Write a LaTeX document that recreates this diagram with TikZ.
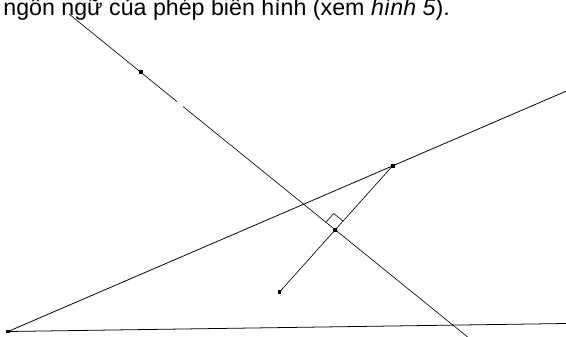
\documentclass[tikz,border=0pt]{standalone}
\usepackage{fontspec}
\setmainfont{Liberation Sans}
\tikzset{vertex/.style={rectangle,fill=black,inner sep=0pt,minimum size=2.8pt}}
\begin{document}
\begin{tikzpicture}[x=0.025cm,y=-0.025cm,line width=0.55pt]
\useasboundingbox (0,0) rectangle (566,336);
\clip (0,0) rectangle (566,336);
% points
\coordinate (A) at (8,331.5);
\coordinate (B) at (392.7,165.7);
\coordinate (H) at (335,230);
\coordinate (C) at (279.5,292);
\coordinate (P) at (140.7,72.3);
\coordinate (T) at (69,14);
\coordinate (G1) at (177,101.6);
\coordinate (G2) at (183,106.5);
\coordinate (D) at (475,343);
\coordinate (E) at (580,85.2);
\coordinate (F) at (580,323.3);
% text
\node[anchor=base west,font=\fontsize{16.5}{19}\selectfont,inner sep=0pt] (txt) at (3,15.5)
  {ngôn ngữ của phép biến hình (xem \textit{hình 5}).};
% lines
\draw (A) -- (E);
\draw (A) -- (F);
\draw[line width=0.45pt] (T) -- (G1);
\draw[line width=0.45pt] (G2) -- (D);
\draw[line width=0.45pt] (B) -- (C);
\draw[line width=0.45pt] (325.7,222.4) -- (333.7,213.5) -- (343,221.1);
% marks
\node[vertex] at (A) {};
\node[vertex] at (B) {};
\node[vertex] at (H) {};
\node[vertex] at (C) {};
\node[vertex] at (P) {};
\end{tikzpicture}
\end{document}
